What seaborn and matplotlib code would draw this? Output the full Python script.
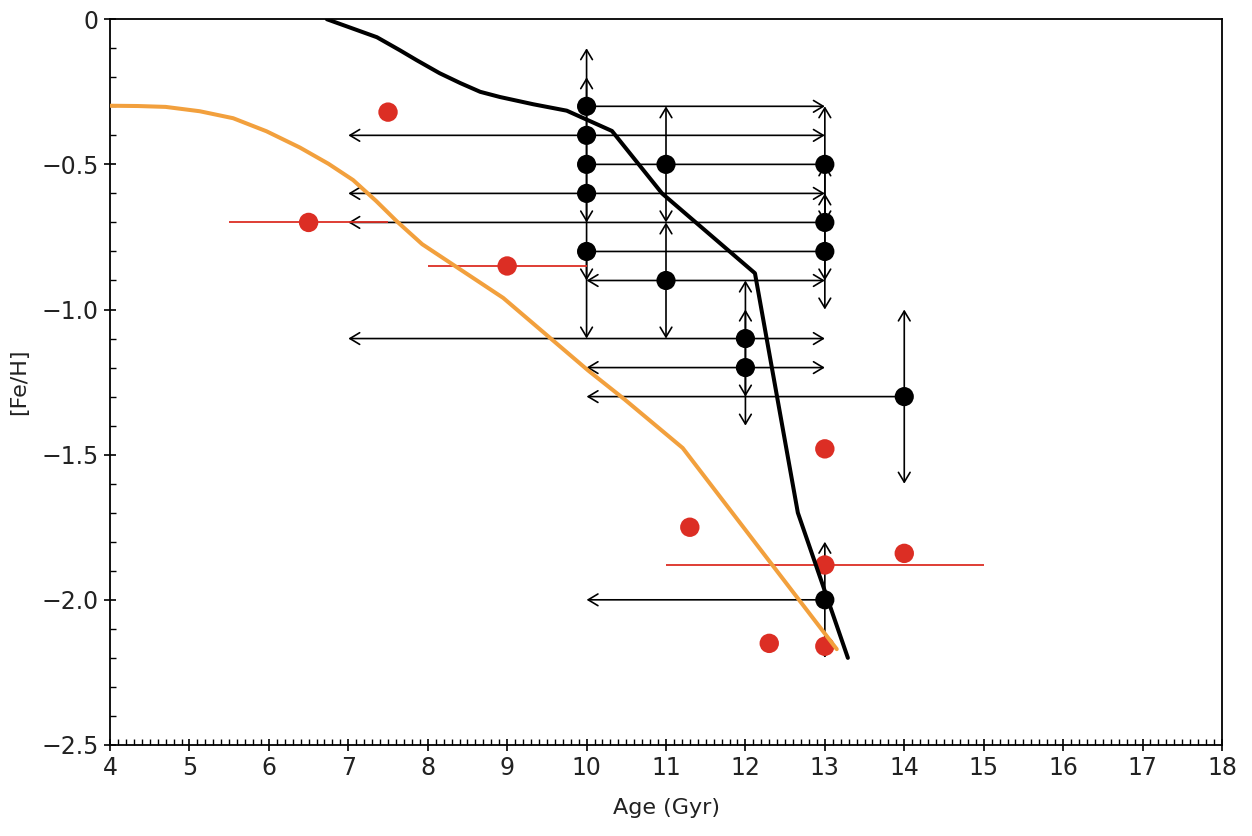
import numpy as np
import pandas as pd
import matplotlib
matplotlib.use("Agg")
import matplotlib.pyplot as plt
from matplotlib.patches import FancyArrowPatch
from matplotlib.ticker import MultipleLocator, FuncFormatter
import seaborn as sns

# ---------------- data ----------------
# black points (age limits / metallicity limits)
blk_age    = [10, 10, 10, 10, 10, 11, 11, 12, 12, 13, 13, 13, 13, 14]
blk_feh    = [-0.3, -0.4, -0.5, -0.6, -0.8, -0.5, -0.9, -1.1, -1.2, -0.5, -0.7, -0.8, -2.0, -1.3]
blk_feh_hi = [-0.1, -0.2, -0.5, -0.6, -0.8, -0.3, -0.7, -0.9, -1.0, -0.3, -0.5, -0.6, -1.8, -1.0]
blk_feh_lo = [-0.5, -0.6, -0.7, -0.9, -1.1, -0.7, -1.1, -1.3, -1.4, -0.7, -0.9, -1.0, -2.2, -1.6]
blk_up_lim   = [True, True, False, False, False, True, True, True, True, True, True, True, True, True]
blk_down_lim = [False, False, True, True, True, True, True, True, True, True, True, True, True, True]
blk_age_lo = [10, 7, 10, 7, 10, 11, 10, 7, 10, 13, 7, 13, 10, 10]
blk_age_hi = [13, 13, 13, 13, 13, 11, 13, 13, 13, 13, 13, 13, 13, 14]
blk_left_lim  = [False, True, False, True, False, False, True, True, True, False, True, False, True, True]
blk_right_lim = [True, True, False, True, False, False, True, True, True, False, False, False, False, False]

# red points
red_age = [7.5, 6.5, 9.0, 11.3, 12.3, 13.0, 13.0, 14.0, 13.0]
red_feh = [-0.32, -0.70, -0.85, -1.75, -2.15, -1.48, -1.88, -1.84, -2.16]
red_age_err = [0.0, 1.0, 1.0, 0.0, 0.0, 0.0, 2.0, 0.0, 0.0]

# orange model curve
orange_age = [4.0, 4.35, 4.7, 5.13, 5.55, 5.97, 6.39, 6.75, 7.06, 7.35, 7.61, 7.93,
              8.95, 10.02, 10.48, 11.21, 13.15]
orange_feh = [-0.298, -0.299, -0.302, -0.317, -0.341, -0.386, -0.442, -0.498, -0.554,
              -0.626, -0.696, -0.775, -0.96, -1.21, -1.31, -1.477, -2.17]

# black model curve
black_age = [6.73, 7.36, 7.65, 7.86, 8.15, 8.41, 8.66, 8.91, 9.33, 9.75, 10.32, 10.95,
             12.12, 12.66, 13.29]
black_feh = [0.0, -0.062, -0.107, -0.141, -0.186, -0.220, -0.250, -0.268, -0.293, -0.315,
             -0.385, -0.60, -0.875, -1.70, -2.20]

x_ticks = list(range(4, 19))
y_ticks = [0, -0.5, -1.0, -1.5, -2.0, -2.5]

# ---------------- style ----------------
sns.set_theme(style="white")
plt.rcParams["font.family"] = ["DejaVu Sans"]

RED = "#DC2E24"
ORANGE = "#F2A03D"
BLACK = "#000000"

fig, ax = plt.subplots(figsize=(12.52, 8.36), dpi=100)
fig.subplots_adjust(left=0.0879, right=0.976, top=0.977, bottom=0.1089)


def seg(p0, p1, head0, head1, color, lw, z):
    style = {(False, False): "-", (True, False): "<-",
             (False, True): "->", (True, True): "<->"}[(head0, head1)]
    if style != "-":
        style += ",head_length=0.7,head_width=0.42"
    ax.add_patch(FancyArrowPatch(p0, p1, arrowstyle=style, mutation_scale=10,
                                 shrinkA=0, shrinkB=0, color=color, lw=lw, zorder=z))


# black limit arrows
for i in range(len(blk_age)):
    x, y = blk_age[i], blk_feh[i]
    seg((x, blk_feh_lo[i]), (x, blk_feh_hi[i]), blk_down_lim[i], blk_up_lim[i],
        BLACK, 1.2, 2)
    if blk_age_hi[i] > blk_age_lo[i]:
        seg((blk_age_lo[i], y), (blk_age_hi[i], y), blk_left_lim[i], blk_right_lim[i],
            BLACK, 1.2, 2)

blk_df = pd.DataFrame({"age": blk_age, "feh": blk_feh})
sns.scatterplot(data=blk_df, x="age", y="feh", color=BLACK, s=190, edgecolor="none",
                marker="o", ax=ax, zorder=3, legend=False)

# red points with age errors
for a, f, e in zip(red_age, red_feh, red_age_err):
    if e > 0:
        ax.plot([a - e, a + e], [f, f], color=RED, lw=1.3, zorder=3.5,
                solid_capstyle="butt")
red_df = pd.DataFrame({"age": red_age, "feh": red_feh})
sns.scatterplot(data=red_df, x="age", y="feh", color=RED, s=195, edgecolor="none",
                marker="o", ax=ax, zorder=4, legend=False)

# model curves
o_df = pd.DataFrame({"age": orange_age, "feh": orange_feh})
sns.lineplot(data=o_df, x="age", y="feh", sort=False, estimator=None, color=ORANGE,
             lw=2.9, ax=ax, zorder=5)
b_df = pd.DataFrame({"age": black_age, "feh": black_feh})
sns.lineplot(data=b_df, x="age", y="feh", sort=False, estimator=None, color=BLACK,
             lw=2.9, ax=ax, zorder=6)

# ---------------- axes ----------------
ax.set_xlim(4, 18)
ax.set_ylim(-2.5, 0)
ax.set_xticks(x_ticks)
ax.set_yticks(y_ticks)
ax.xaxis.set_minor_locator(MultipleLocator(0.1))
ax.yaxis.set_minor_locator(MultipleLocator(0.1))
ax.yaxis.set_major_formatter(FuncFormatter(
    lambda v, p: "0" if abs(v) < 1e-9 else f"{v:.1f}".replace("-", "\u2212")))

ax.tick_params(which="major", direction="inout", length=8, width=1.2, color=BLACK,
               labelsize=17, labelcolor="#222222", pad=4, top=False, right=False,
               bottom=True, left=True)
ax.tick_params(which="minor", direction="in", length=4, width=1.0, color=BLACK,
               top=False, right=False, bottom=True, left=True)

for sp in ax.spines.values():
    sp.set_color(BLACK)
    sp.set_linewidth(1.3)
    sp.set_visible(True)

ax.set_xlabel("Age (Gyr)", fontsize=16, color="#222222")
ax.set_ylabel("[Fe/H]", fontsize=16, color="#222222")
ax.xaxis.set_label_coords(0.5, -0.073)
ax.yaxis.set_label_coords(-0.073, 0.5)
ax.grid(False)

fig.savefig("out.png", dpi=100, facecolor="white")
